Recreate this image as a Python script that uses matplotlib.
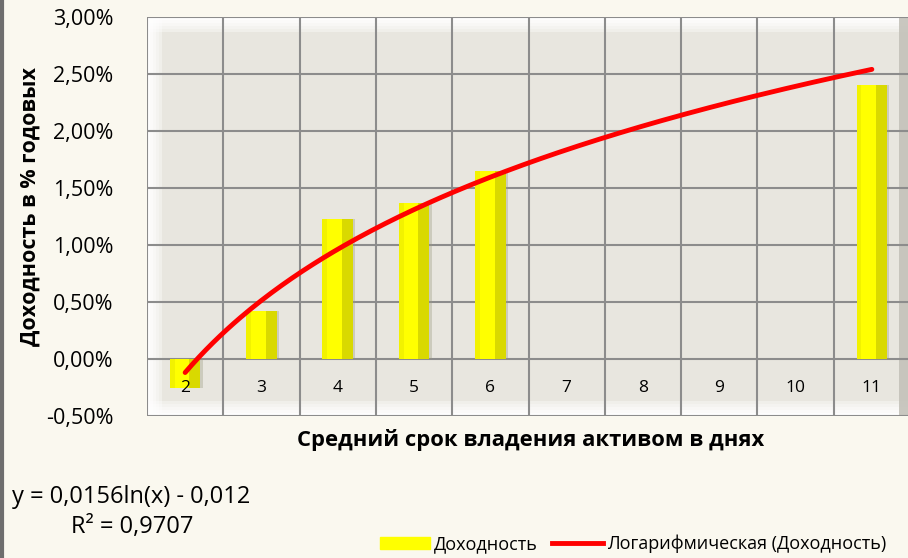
import numpy as np
import matplotlib
matplotlib.use("Agg")
import matplotlib.pyplot as plt
from matplotlib.patches import Rectangle
from matplotlib.lines import Line2D
from matplotlib.ticker import FuncFormatter

categories = ["2", "3", "4", "5", "6", "7", "8", "9", "10", "11"]
returns_pct = [-0.25, 0.42, 1.23, 1.37, 1.65, 0.0, 0.0, 0.0, 0.0, 2.40]
trend_a = 0.0156
trend_b = -0.012
r2_text = "0,9707"
yticks = [-0.5, 0.0, 0.5, 1.0, 1.5, 2.0, 2.5, 3.0]

plt.rcParams['font.family'] = ['Open Sans', 'DejaVu Sans']

bg = "#FAF8EF"
fig = plt.figure(figsize=(9.08, 5.58), dpi=100, facecolor=bg)
ax = fig.add_axes([147/908, 142/558, 763/908, 399/558])
ax.set_facecolor("#E8E6DF")

n = len(categories)
x = np.arange(n)
ax.set_xlim(-0.5, n - 0.5)
ax.set_ylim(-0.5, 3.0)

# bevel of plot area (under the grid), drawn as fading strips
steps = 5
hy = 0.0075
hx = 0.004
for k in range(steps):
    a = 0.95 * (1 - k / steps) ** 0.6
    ax.add_patch(Rectangle((0, k * hy), 1, hy, transform=ax.transAxes, color="white", alpha=a, zorder=0.5, lw=0))
    ax.add_patch(Rectangle((0, 1 - (k + 1) * hy), 1, hy, transform=ax.transAxes, color="white", alpha=a, zorder=0.5, lw=0))
    ax.add_patch(Rectangle((k * hx, 0), hx, 1, transform=ax.transAxes, color="white", alpha=a, zorder=0.5, lw=0))
ax.add_patch(Rectangle((0.985, 0), 0.015, 1, transform=ax.transAxes, color="#C4C2BA", alpha=0.9, zorder=0.5, lw=0))

# grid
for yv in yticks:
    ax.axhline(yv, color="#8C8C8C", lw=1.5, zorder=1)
for xv in np.arange(-0.5, n, 1.0):
    ax.axvline(xv, color="#8C8C8C", lw=1.5, zorder=1)

# bars with bevel look
bw = 0.4
vals = np.array(returns_pct)
mask = vals != 0
ax.bar(x[mask] + 0.03, vals[mask], width=bw, color="#9A9A80", alpha=0.35, zorder=2, lw=0)
ax.bar(x[mask], vals[mask], width=bw, color="#FFFF00", zorder=3, lw=0)
ax.bar(x[mask] + bw * 0.32, vals[mask], width=bw * 0.36, color="#D9D900", zorder=3.5, lw=0)
ax.bar(x[mask] - bw * 0.42, vals[mask], width=bw * 0.16, color="#F2F200", zorder=3.5, lw=0)

# trendline
cat_vals = np.array([float(c) for c in categories])
xs = np.linspace(cat_vals[0], cat_vals[-1], 200)
ys = (trend_a * np.log(xs) + trend_b) * 100
ax.plot(xs - cat_vals[0], ys, color="#FF0000", lw=3.5, solid_capstyle="round", zorder=4)

# category labels just below zero line
for i, c in enumerate(categories):
    ax.text(i, -0.25, c, ha="center", va="center", fontsize=12.5, color="black", zorder=5)

ax.set_xticks([])
ax.set_yticks(yticks)
ax.yaxis.set_major_formatter(FuncFormatter(lambda v, p: f"{v:.2f}%".replace(".", ",")))
ax.tick_params(axis="y", length=0, labelsize=15.5, pad=24)
for s in ax.spines.values():
    s.set_visible(False)

fig.text(30/908, 1 - 207/558, "Доходность в % годовых", rotation=90, ha="center", va="center",
         fontsize=15.5, fontweight="bold")
fig.text(531/908, 1 - 440/558, "Средний срок владения активом в днях", ha="center", va="center",
         fontsize=15.8, fontweight="bold")

fig.text(12/908, 1 - 497/558, "y = 0,0156ln(x) - 0,012", ha="left", va="center", fontsize=17)
fig.text(71/908, 1 - 527/558, "R² = " + r2_text, ha="left", va="center", fontsize=17)

handles = [Rectangle((0, 0), 1, 1, color="#FFFF00"), Line2D([0], [0], color="#FF0000", lw=3.5)]
fig.legend(handles, ["Доходность", "Логарифмическая (Доходность)"], loc="center right",
           bbox_to_anchor=(893/908, 1 - 544/558), ncol=2, frameon=False, fontsize=13,
           handlelength=2.8, handletextpad=0.2, columnspacing=0.8, borderaxespad=0)

fig.add_artist(Line2D([0.002, 0.002], [0, 1], color="#6E6E6E", lw=3, transform=fig.transFigure))

fig.savefig("out.png", dpi=100, facecolor=bg)
